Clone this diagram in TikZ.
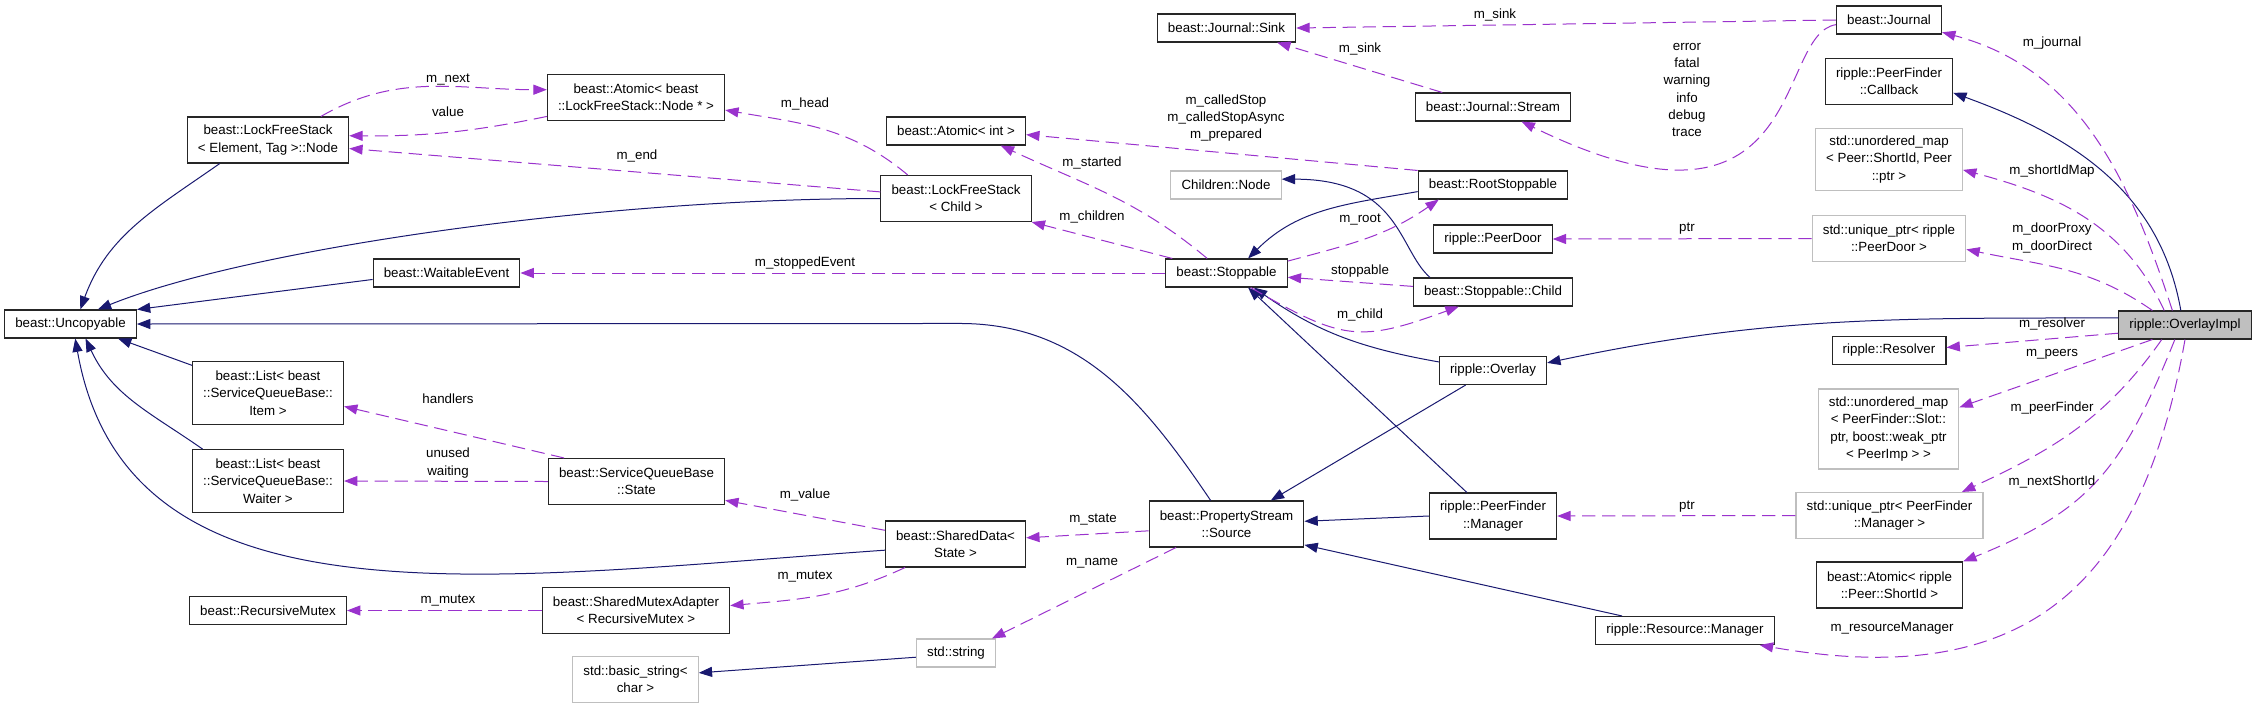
\documentclass[tikz,border=0pt]{standalone}
\usepackage{fontspec}
\setmainfont{Liberation Sans}
\usetikzlibrary{arrows.meta}
\definecolor{inhblue}{HTML}{191970}
\definecolor{usepurple}{HTML}{9A32CD}
\definecolor{extgray}{HTML}{BFBFBF}

\begin{document}
\begin{tikzpicture}[x=0.75pt, y=0.75pt, font=\fontsize{10}{13}\selectfont,
    cls/.style={draw=black!85, line width=0.8pt, fill=white, align=center, inner xsep=8pt, inner ysep=2pt, minimum height=21pt},
    ext/.style={cls, draw=extgray},
    cur/.style={cls, fill=extgray},
    two/.style={minimum height=34.5pt},
    three/.style={minimum height=47pt},
    four/.style={minimum height=60pt},
    inherit/.style={draw=inhblue, line width=0.75pt, -{Triangle[length=10pt,width=7.5pt]}},
    member/.style={draw=usepurple, line width=0.75pt, dash pattern=on 10pt off 5pt, -{Triangle[length=10pt,width=7.5pt]}},
    mname/.style={align=center, inner sep=0pt}]
    \path[use as bounding box, fill=white] (0,0) rectangle (2256,-708);

    % classes, column by column
    \node[cls] (uncopyable) at (70.5,-324) {beast::Uncopyable};
    \node[cls,two] (lfsnode) at (268,-140) {beast::LockFreeStack\\< Element, Tag >::Node};
    \node[cls,three] (listitem) at (268,-393) {beast::List< beast\\::ServiceQueueBase::\\Item >};
    \node[cls,three] (listwaiter) at (268,-481) {beast::List< beast\\::ServiceQueueBase::\\Waiter >};
    \node[cls] (recmutex) at (268,-610.5) {beast::RecursiveMutex};
    \node[cls,two] (atomicnode) at (636,-97.5) {beast::Atomic< beast\\::LockFreeStack::Node * >};
    \node[cls] (waitable) at (446.5,-273) {beast::WaitableEvent};
    \node[cls,two] (sqstate) at (636.5,-481.5) {beast::ServiceQueueBase\\::State};
    \node[cls,two] (mutexadapter) at (636,-610.5) {beast::SharedMutexAdapter\\< RecursiveMutex >};
    \node[ext,two] (basicstring) at (635.5,-679.5) {std::basic\_string<\\char >};
    \node[cls] (atomicint) at (956,-131) {beast::Atomic< int >};
    \node[cls,two] (lfschild) at (956,-198.5) {beast::LockFreeStack\\< Child >};
    \node[cls,two] (shareddata) at (955.5,-544) {beast::SharedData<\\State >};
    \node[ext] (stdstring) at (956,-653) {std::string};
    \node[cls] (sink) at (1226.5,-28) {beast::Journal::Sink};
    \node[ext] (childnode) at (1226,-185) {Children::Node};
    \node[cls] (stoppable) at (1226.5,-273) {beast::Stoppable};
    \node[cls,two] (source) at (1226.5,-524) {beast::PropertyStream\\::Source};
    \node[cls] (stream) at (1493,-107) {beast::Journal::Stream};
    \node[cls] (rootstop) at (1493,-185) {beast::RootStoppable};
    \node[cls] (peerdoor) at (1493,-239) {ripple::PeerDoor};
    \node[cls] (stopchild) at (1493,-292) {beast::Stoppable::Child};
    \node[cls] (overlay) at (1493,-370.5) {ripple::Overlay};
    \node[cls,two] (pfmanager) at (1493,-516) {ripple::PeerFinder\\::Manager};
    \node[cls] (resmanager) at (1685,-630.5) {ripple::Resource::Manager};
    \node[cls] (journal) at (1889,-20) {beast::Journal};
    \node[cls,two] (callback) at (1889,-81.5) {ripple::PeerFinder\\::Callback};
    \node[ext,three] (shortidmap) at (1889,-159.5) {std::unordered\_map\\< Peer::ShortId, Peer\\::ptr >};
    \node[ext,two] (doorptr) at (1889,-238.5) {std::unique\_ptr< ripple\\::PeerDoor >};
    \node[cls] (resolver) at (1889,-350.5) {ripple::Resolver};
    \node[ext,four] (slotmap) at (1888.5,-429) {std::unordered\_map\\< PeerFinder::Slot::\\ptr, boost::weak\_ptr\\< PeerImp > >};
    \node[ext,two] (managerptr) at (1889.5,-515.5) {std::unique\_ptr< PeerFinder\\::Manager >};
    \node[cls,two] (atomicshortid) at (1889.5,-585) {beast::Atomic< ripple\\::Peer::ShortId >};
    \node[cur] (overlayimpl) at (2185,-325) {ripple::OverlayImpl};

    % base classes
    \draw[inherit] (lfsnode.-154) to[out=-145,in=70] (uncopyable.56);
    \draw[inherit] (lfschild.west) .. controls +(180:281) and +(22:162) .. (uncopyable.28);
    \draw[inherit] (waitable.-175) -- (uncopyable.north east);
    \draw[inherit] (source.124) to[out=124,in=0] ++(-251,177) -- (uncopyable.east);
    \draw[inherit] (listitem.160) -- (uncopyable.-17.5);
    \draw[inherit] (listwaiter.154) to[out=145,in=-65] (uncopyable.-44);
    \draw[inherit] (shareddata.-175) .. controls +(184:400) and +(-80:300) .. (uncopyable.-72);
    \draw[inherit] (rootstop.-175) to[out=-170,in=45] (stoppable.34);
    \draw[inherit] (stopchild.167) .. controls +(139:42) and +(0:119) .. (childnode.6);
    \draw[inherit] (overlay.171) to[out=170,in=-35] (stoppable.-28);
    \draw[inherit] (pfmanager.138) -- (stoppable.-34);
    \draw[inherit] (overlay.-152) -- (source.28);
    \draw[inherit] (pfmanager.west) -- (source.2);
    \draw[inherit] (resmanager.167) -- (source.-15);
    \draw[inherit] (overlayimpl.174) to[out=180,in=12] (overlay.8);
    \draw[inherit] (overlayimpl.106) to[out=100,in=-20] (callback.-10);
    \draw[inherit] (stdstring.-174) -- (basicstring.6);

    % members
    \draw[member] (lfsnode.24) to[out=30,in=180] (atomicnode.175);
    \draw[member] (atomicnode.-168) to[bend left=6] (lfsnode.3);
    \draw[member] (lfschild.175) -- (lfsnode.-6);
    \draw[member] (lfschild.154) to[out=140,in=-10] (atomicnode.-8);
    \draw[member] (stoppable.west) -- (waitable.east);
    \draw[member] (stoppable.165) -- (lfschild.south east);
    \draw[member] (stoppable.143) to[out=140,in=-25] (atomicint.-18);
    \draw[member] (rootstop.north west) -- (atomicint.-3);
    \draw[member] (stoppable.11) to[out=15,in=-145] (rootstop.-165);
    \draw[member] (stopchild.176) -- (stoppable.-4);
    \draw[member] (stoppable.-31) to[out=-30,in=-160,looseness=1.3] (stopchild.-157);
    \draw[member] (stream.164) -- (sink.-16);
    \draw[member] (journal.west) -- (sink.east);
    \draw[member] (journal.-175) .. controls +(189:63) and +(-26:322) .. (stream.-27);
    \draw[member] (overlayimpl.131) to[out=108,in=-15] (journal.-13);
    \draw[member] (overlayimpl.145) to[out=115,in=-15] (shortidmap.-8);
    \draw[member] (overlayimpl.156) to[out=145,in=-12] (doorptr.-8);
    \draw[member] (overlayimpl.-173) -- (resolver.3);
    \draw[member] (overlayimpl.-156) -- (slotmap.17);
    \draw[member] (overlayimpl.-148) to[out=-125,in=25] (managerptr.18);
    \draw[member] (overlayimpl.-125) to[out=-112,in=22,looseness=1.15] (atomicshortid.north east);
    \draw[member] (overlayimpl.south) .. controls +(-100:240) and +(-10:280) .. (resmanager.-11);
    \draw[member] (doorptr.west) -- (peerdoor.east);
    \draw[member] (managerptr.west) -- (pfmanager.east);
    \draw[member] (source.-175) -- (shareddata.5);
    \draw[member] (source.-155) -- (stdstring.22);
    \draw[member] (shareddata.169) -- (sqstate.-12);
    \draw[member] (shareddata.-155) to[out=-155,in=5] (mutexadapter.3);
    \draw[member] (sqstate.162) -- (listitem.-10);
    \draw[member] (sqstate.west) -- (listwaiter.east);
    \draw[member] (mutexadapter.west) -- (recmutex.east);

    % member names
    \node[mname] (lnext) at (448,-80) {m\_next};
    \node[mname] (lvalue) at (448,-112) {value};
    \node[mname] (lend) at (637,-156) {m\_end};
    \node[mname] (lhead) at (805,-104) {m\_head};
    \node[mname] (lstopped) at (805,-263) {m\_stoppedEvent};
    \node[mname] (lchildren) at (1092,-217) {m\_children};
    \node[mname] (lstarted) at (1092,-163) {m\_started};
    \node[mname] (lcalled) at (1226,-118) {m\_calledStop\\m\_calledStopAsync\\m\_prepared};
    \node[mname] (lroot) at (1360,-220) {m\_root};
    \node[mname] (lstoppable) at (1360,-271) {stoppable};
    \node[mname] (lchild) at (1360,-315) {m\_child};
    \node[mname] (lsinka) at (1360,-49) {m\_sink};
    \node[mname] (lsinkb) at (1495,-15) {m\_sink};
    \node[mname] (llevels) at (1687,-90) {error\\fatal\\warning\\info\\debug\\trace};
    \node[mname] (ljournal) at (2052,-43) {m\_journal};
    \node[mname] (lshortid) at (2052,-171) {m\_shortIdMap};
    \node[mname] (ldoor) at (2052,-238) {m\_doorProxy\\m\_doorDirect};
    \node[mname] (lresolver) at (2052,-324) {m\_resolver};
    \node[mname] (lpeers) at (2052,-354) {m\_peers};
    \node[mname] (lfinder) at (2052,-408) {m\_peerFinder};
    \node[mname] (lnextid) at (2052,-482) {m\_nextShortId};
    \node[mname] (lresource) at (1892,-628) {m\_resourceManager};
    \node[mname] (lptra) at (1687,-229) {ptr};
    \node[mname] (lptrb) at (1687,-507) {ptr};
    \node[mname] (lstate) at (1093,-520) {m\_state};
    \node[mname] (lname) at (1092,-563) {m\_name};
    \node[mname] (lmvalue) at (805,-495) {m\_value};
    \node[mname] (lmutexa) at (805,-577) {m\_mutex};
    \node[mname] (lhandlers) at (448,-399) {handlers};
    \node[mname] (lwaiting) at (448,-463) {unused\\waiting};
    \node[mname] (lmutexb) at (448,-601) {m\_mutex};
\end{tikzpicture}
\end{document}
